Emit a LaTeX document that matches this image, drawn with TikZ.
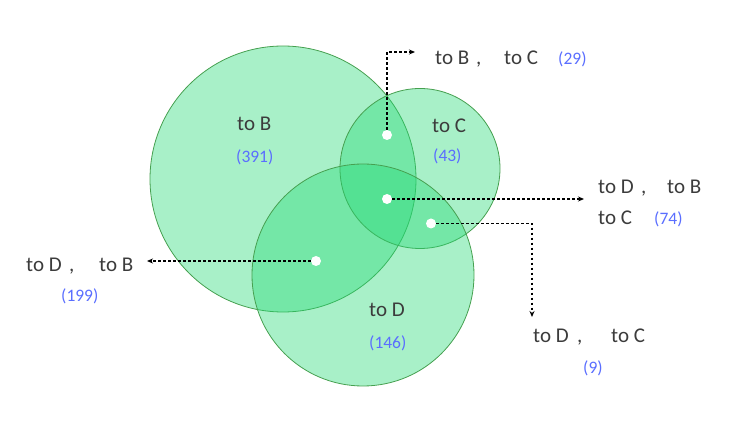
\documentclass[tikz,border=0pt]{standalone}
\usepackage{fontspec}
\setmainfont{Carlito}
\usetikzlibrary{arrows.meta}
\definecolor{vfill}{RGB}{37,217,117}
\definecolor{vedge}{RGB}{70,160,80}
\definecolor{txt}{RGB}{60,60,60}
\definecolor{num}{RGB}{90,110,255}
\tikzset{
  setc/.style={draw=vedge, line width=0.8pt, fill=vfill, fill opacity=0.4, draw opacity=1},
  lbl/.style={anchor=base west, inner sep=0pt, text=txt, font=\fontsize{21}{25}\selectfont},
  cnt/.style={anchor=base west, inner sep=0pt, text=num, font=\fontsize{17.5}{21}\selectfont},
  dotm/.style={circle, fill=white, inner sep=0pt, minimum size=10pt},
  lead/.style={draw=black, line width=1.4pt, dash pattern=on 2.5pt off 2.5pt, -{Stealth[length=6pt,width=5pt]}}
}
\begin{document}
\begin{tikzpicture}[x=1pt,y=-1pt]
\useasboundingbox (0,0) rectangle (732,422);
% circles
\path[setc] (283,179) circle[radius=133];
\path[setc] (420,168.5) circle[radius=80];
\path[setc] (363,275) circle[radius=111];
% dots
\node[dotm] (bc) at (387,135) {};
\node[dotm] (bcd) at (387,199) {};
\node[dotm] (cd) at (431,223.5) {};
\node[dotm] (bd) at (316,261) {};
% leader end points
\coordinate (bcUp) at (387,52);
\coordinate (bcEnd) at (415,52);
\coordinate (bcdEnd) at (584,199);
\coordinate (cdCorner) at (532,223.5);
\coordinate (cdEnd) at (532,317);
\coordinate (bdEnd) at (147,261);
% leaders
\draw[lead] (bc.north) -- (bcUp) -- (bcEnd);
\draw[lead] (bcd.east) -- (bcdEnd);
\draw[lead] (cd.east) -- (cdCorner) -- (cdEnd);
\draw[lead] (bd.west) -- (bdEnd);
% inside labels
\node[lbl] (lB) at (237,131) {to B};
\node[cnt] (nB) at (236,163) {(391)};
\node[lbl] (lC) at (432,133) {to C};
\node[cnt] (nC) at (433,162) {(43)};
\node[lbl] (lD) at (369,317) {to D};
\node[cnt] (nD) at (369,349) {(146)};
% top label
\node[lbl] (t1) at (435,65) {to B};
\node[lbl] (t1c) at (476,65) {,};
\node[lbl] (t2) at (504,65) {to C};
\node[cnt] (t3) at (558,65) {(29)};
% right label
\node[lbl] (r1) at (598,194) {to D};
\node[lbl] (r1c) at (641,194) {,};
\node[lbl] (r2) at (667,194) {to B};
\node[lbl] (r3) at (598,225) {to C};
\node[cnt] (r4) at (654,225) {(74)};
% bottom right label
\node[lbl] (b1) at (533,343) {to D};
\node[lbl] (b1c) at (577,343) {,};
\node[lbl] (b2) at (611,343) {to C};
\node[cnt] (b3) at (583,374) {(9)};
% left label
\node[lbl] (l1) at (26,272) {to D};
\node[lbl] (l1c) at (69,272) {,};
\node[lbl] (l2) at (99,272) {to B};
\node[cnt] (l3) at (61,302) {(199)};
\end{tikzpicture}
\end{document}
